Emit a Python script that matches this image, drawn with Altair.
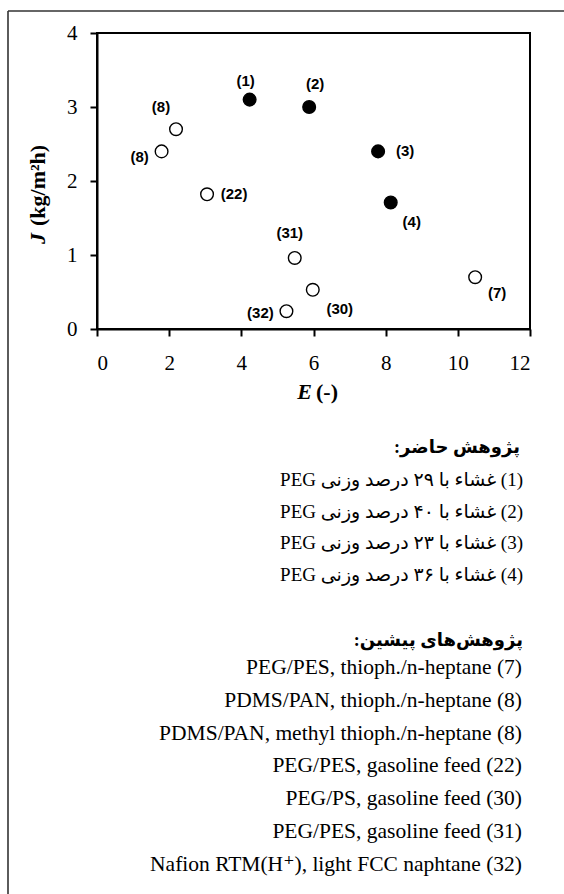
import altair as alt
import pandas as pd

# ---------------- data ----------------
E_values = [4.23, 5.88, 7.79, 8.14, 2.19, 1.79, 3.05, 5.48, 5.98, 5.25, 10.48]
J_values = [3.10, 3.00, 2.40, 1.71, 2.70, 2.40, 1.82, 0.96, 0.53, 0.24, 0.70]
point_labels = ["(1)", "(2)", "(3)", "(4)", "(8)", "(8)", "(22)", "(31)", "(30)", "(32)", "(7)"]
study = ["present"] * 4 + ["previous"] * 7

x_ticks = [0, 2, 4, 6, 8, 10, 12]
y_ticks = [0, 1, 2, 3, 4]

LRM = "\u200e"
RLM = "\u200f"
present_header = "پژوهش حاضر:" + RLM
present_numbers = ["1", "2", "3", "4"]
present_percent = ["۲۹", "۴۰", "۲۳", "۳۶"]
previous_header = "پژوهش\u200cهای پیشین:" + RLM
previous_items = [
    "PEG/PES, thioph./n-heptane (7)",
    "PDMS/PAN, thioph./n-heptane (8)",
    "PDMS/PAN, methyl thioph./n-heptane (8)",
    "PEG/PES, gasoline feed (22)",
    "PEG/PS, gasoline feed (30)",
    "PEG/PES, gasoline feed (31)",
    "Nafion RTM(H\u207a), light FCC naphtane (32)",
]

present_lines = [
    "PEG غشاء با " + p + " درصد وزنی " + LRM + "(" + n + ")"
    for n, p in zip(present_numbers, present_percent)
]

# label offsets (pixels) per point label
label_offsets = [(-4, -19), (6, -23), (27, 0), (21, 20), (-15, -22), (-22, 6),
                 (27, 0), (-5, -25), (27, 19), (-26, 2), (22, 16)]

df = pd.DataFrame({"E": E_values, "J": J_values, "label": point_labels,
                   "study": study, "idx": list(range(len(E_values)))})
one = pd.DataFrame({"a": [0]})

SERIF = "Liberation Serif, DejaVu Serif, DejaVu Sans"
W, H = 433, 296

xscale = alt.Scale(domain=[0, 12], nice=False)
yscale = alt.Scale(domain=[0, 4], nice=False)

points = alt.Chart(df).mark_circle(size=160, stroke="black", strokeWidth=1.4, opacity=1).encode(
    x=alt.X("E:Q", scale=xscale, axis=alt.Axis(values=x_ticks, format="d", title=None, labelPadding=16)),
    y=alt.Y("J:Q", scale=yscale, axis=alt.Axis(values=y_ticks, format="d", title=None, labelPadding=13)),
    fill=alt.Fill("study:N", scale=alt.Scale(domain=["present", "previous"], range=["black", "white"]),
                  legend=None),
)

label_layers = []
for i, (dx, dy) in enumerate(label_offsets):
    label_layers.append(
        alt.Chart(df).transform_filter(alt.datum.idx == i).mark_text(
            dx=dx, dy=dy, font="Liberation Sans", fontWeight="bold", fontSize=15,
            align="center", baseline="middle", color="black"
        ).encode(x=alt.X("E:Q", scale=xscale), y=alt.Y("J:Q", scale=yscale), text="label:N")
    )

# axis titles (mixed italic / bold)
x_title_E = alt.Chart(one).mark_text(font=SERIF, fontSize=22, fontWeight="bold", fontStyle="italic",
                                     align="right", baseline="middle", color="black").encode(
    x=alt.value(215), y=alt.value(359), text=alt.value("E"))
x_title_rest = alt.Chart(one).mark_text(font=SERIF, fontSize=22, fontWeight="bold",
                                        align="left", baseline="middle", color="black").encode(
    x=alt.value(219), y=alt.value(359), text=alt.value("(-)"))
y_title_J = alt.Chart(one).mark_text(font=SERIF, fontSize=22, fontWeight="bold", fontStyle="italic",
                                     align="left", baseline="middle", angle=270, color="black").encode(
    x=alt.value(-59), y=alt.value(211), text=alt.value("J"))
y_title_rest = alt.Chart(one).mark_text(font=SERIF, fontSize=22, fontWeight="bold",
                                        align="left", baseline="middle", angle=270, color="black").encode(
    x=alt.value(-59), y=alt.value(193), text=alt.value("(kg/m²h)"))

# legend text blocks
hdr1 = alt.Chart(one).mark_text(font=SERIF, fontSize=18, fontWeight="bold", align="right",
                                baseline="middle", color="black").encode(
    x=alt.value(423), y=alt.value(415), text=alt.value(present_header))
blk1 = alt.Chart(one).mark_text(font=SERIF, fontSize=19, align="right", baseline="middle",
                                lineBreak="\n", lineHeight=31.7, color="black").encode(
    x=alt.value(426), y=alt.value(447), text=alt.value("\n".join(present_lines)))
hdr2 = alt.Chart(one).mark_text(font=SERIF, fontSize=18, fontWeight="bold", align="right",
                                baseline="middle", color="black").encode(
    x=alt.value(426), y=alt.value(608), text=alt.value(previous_header))
blk2 = alt.Chart(one).mark_text(font=SERIF, fontSize=21.5, align="right", baseline="middle",
                                lineBreak="\n", lineHeight=32.8, color="black").encode(
    x=alt.value(425), y=alt.value(635), text=alt.value("\n".join(previous_items)))

# outer frame (left and top edges)
frame_left = alt.Chart(one).mark_rule(color="#333333", strokeWidth=1.6).encode(
    x=alt.value(-89), y=alt.value(-22), y2=alt.value(870))
frame_top = alt.Chart(one).mark_rule(color="#333333", strokeWidth=1.6).encode(
    x=alt.value(-89), x2=alt.value(470), y=alt.value(-22))

chart = alt.layer(
    frame_left, frame_top, points, *label_layers,
    x_title_E, x_title_rest, y_title_J, y_title_rest,
    hdr1, blk1, hdr2, blk2,
).properties(
    width=W, height=H,
    autosize=alt.AutoSizeParams(type="none"),
    padding={"left": 97, "top": 33, "right": 34, "bottom": 565},
).configure_view(
    stroke="black", strokeWidth=2
).configure_axis(
    grid=False, domainColor="black", domainWidth=2, tickColor="black", tickWidth=2,
    tickSize=7, labelFont="Liberation Serif", labelFontSize=21, labelColor="black",
)

chart.save("out.html", embed_options={"renderer": "svg", "actions": False})
